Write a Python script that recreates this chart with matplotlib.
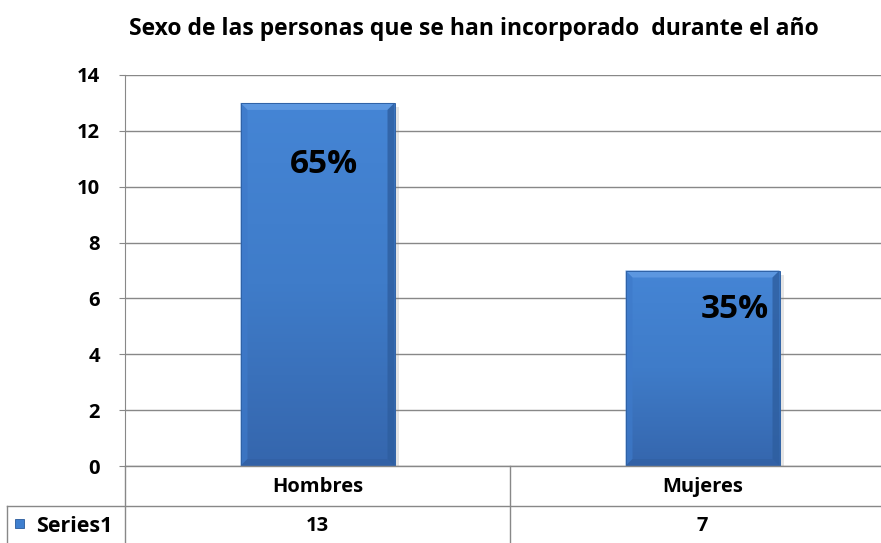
import matplotlib
matplotlib.use("Agg")
import matplotlib.pyplot as plt
import numpy as np
from matplotlib.patches import Rectangle, Polygon
from matplotlib.lines import Line2D
from matplotlib.colors import LinearSegmentedColormap

categories = ["Hombres", "Mujeres"]
values = [13, 7]
pct_labels = ["65%", "35%"]
series_name = "Series1"
title = "Sexo de las personas que se han incorporado  durante el año"
yticks = [0, 2, 4, 6, 8, 10, 12, 14]

plt.rcParams['font.family'] = ['Open Sans', 'DejaVu Sans']
W, H = 881, 543
fig = plt.figure(figsize=(W/100, H/100), dpi=100)

def fx(px): return px / W
def fy(py): return 1 - py / H

left, right, top, bottom = 125, 895, 75, 466
ax = fig.add_axes([fx(left), fy(bottom), fx(right) - fx(left), fy(top) - fy(bottom)])
ax.set_xlim(-0.5, 1.5)
ax.set_ylim(0, 14)
ax.set_yticks(yticks)
ax.set_yticklabels([str(t) for t in yticks], fontsize=14.5, fontweight='bold')
ax.tick_params(axis='y', length=4, color='#888888', pad=14)
ax.set_xticks([])
for s in ['top', 'right', 'bottom']:
    ax.spines[s].set_visible(False)
ax.spines['left'].set_color('#888888')
ax.yaxis.grid(True, color='#888888', linewidth=1)
ax.set_axisbelow(True)

x = np.arange(len(categories))
bw = 0.40
pxx = (right - left) / 2.0
pxy = (bottom - top) / 14.0
bx = 7 / pxx
by = 7 / pxy
vgrad = np.linspace(1, 0, 256).reshape(-1, 1)
vcmap = LinearSegmentedColormap.from_list('v', ['#3566ad', '#3f7cc9', '#4585d5'])
for xi, v in zip(x, values):
    x0, x1 = xi - bw/2, xi + bw/2
    ax.add_patch(Rectangle((x0 + 4/pxx, -4/pxy), bw, v, facecolor='#7f7f7f', alpha=0.2,
                           edgecolor='none', zorder=1))
    bar = ax.bar(xi, v, width=bw, color='#4281d2', edgecolor='none', zorder=2)[0]
    im = ax.imshow(vgrad, extent=(x0, x1, 0, v), aspect='auto', cmap=vcmap, zorder=2.1,
                   vmin=0, vmax=1)
    im.set_clip_path(bar)
    ax.add_patch(Polygon([(x0, v), (x1, v), (x1 - bx, v - by), (x0 + bx, v - by)],
                         closed=True, facecolor='#5c97e0', edgecolor='none', zorder=2.5))
    ax.add_patch(Polygon([(x0, 0), (x0, v), (x0 + bx, v - by), (x0 + bx, by)],
                         closed=True, facecolor='#3e7aca', alpha=0.7, edgecolor='none', zorder=2.5))
    ax.add_patch(Polygon([(x1, 0), (x1, v), (x1 - bx, v - by), (x1 - bx, by)],
                         closed=True, facecolor='#2e5e9f', alpha=0.8, edgecolor='none', zorder=2.5))
    ax.add_patch(Polygon([(x0, 0), (x1, 0), (x1 - bx, by), (x0 + bx, by)],
                         closed=True, facecolor='#305fa2', alpha=0.6, edgecolor='none', zorder=2.5))
    ax.bar(xi, v, width=bw, color='none', edgecolor='#2f62a6', linewidth=0.7, zorder=3)

pct_x_off = [0.016, 0.083]
pct_y = [10.81, 5.59]
for xi, lab, dx, py in zip(x, pct_labels, pct_x_off, pct_y):
    ax.text(xi + dx, py, lab, ha='center', va='center', fontsize=24,
            fontweight='bold', color='black', zorder=4)

fig.text(fx(474), fy(29), title, ha='center', va='center', fontsize=16.5, fontweight='bold')

gc = '#888888'
def hline(y, x0, x1):
    fig.add_artist(Line2D([fx(x0), fx(x1)], [fy(y), fy(y)], color=gc, lw=1))
def vline(xp, y0, y1):
    fig.add_artist(Line2D([fx(xp), fx(xp)], [fy(y0), fy(y1)], color=gc, lw=1))

hline(466, 125, 881)
hline(506, 7, 881)
vline(125, 466, 543)
vline(510, 466, 543)
vline(7, 506, 543)

cat_px = [ax.transData.transform((xi, 0))[0] for xi in x]
for cx, c, v in zip(cat_px, categories, values):
    fig.text(cx / W, fy(487), c, ha='center', va='center', fontsize=14.5, fontweight='bold')
    fig.text(cx / W, fy(526), str(v), ha='center', va='center', fontsize=14.5, fontweight='bold')

fig.add_artist(Rectangle((fx(15), fy(528)), fx(9), (9 / H), facecolor='#3f7fcf',
                         edgecolor='#2a5a9a', lw=0.6))
fig.text(fx(36), fy(526), series_name, ha='left', va='center', fontsize=15.5, fontweight='bold')

fig.savefig("out.png", dpi=100)
